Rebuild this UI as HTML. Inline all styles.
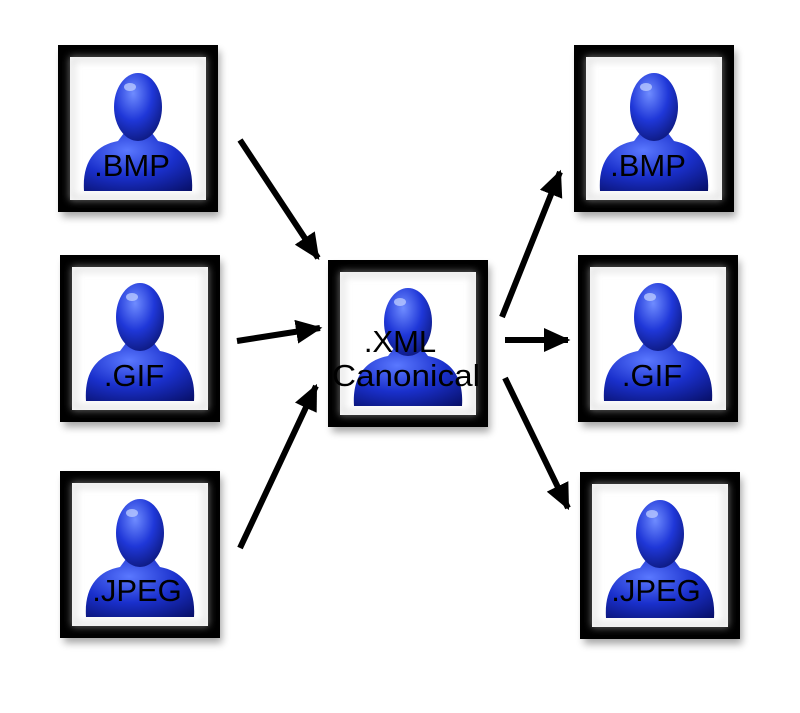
<!DOCTYPE html>
<html><head><style>
body{margin:0;background:#fff;}
svg{display:block;}
text{font-family:"Liberation Sans",sans-serif;fill:#000;}
</style></head><body>
<svg width="800" height="713" viewBox="0 0 800 713" xmlns="http://www.w3.org/2000/svg">
<defs>
<radialGradient id="hg" cx="0.4" cy="0.3" r="0.8">
<stop offset="0" stop-color="#6f8cff"/><stop offset="0.5" stop-color="#1f37d8"/><stop offset="1" stop-color="#0a1470"/>
</radialGradient>
<radialGradient id="bg" cx="0.4" cy="0.3" r="0.9">
<stop offset="0" stop-color="#5a78ff"/><stop offset="0.5" stop-color="#1a30cc"/><stop offset="1" stop-color="#08106a"/>
</radialGradient>
<filter id="sh" x="-20%" y="-20%" width="140%" height="140%"><feGaussianBlur stdDeviation="4"/></filter>
<g id="card">
<rect x="4" y="6" width="158" height="166" fill="#000" opacity="0.35" filter="url(#sh)"/>
<rect x="6" y="6" width="148" height="155" fill="#fff" stroke="#000" stroke-width="12"/>
<rect x="14" y="14" width="132" height="139" fill="none" stroke="#ccc" stroke-width="3" filter="url(#sh)"/>
<path d="M26 146 C24 116 38 100 60 96 L66 88 L94 88 L100 96 C122 100 136 116 134 146 Z" fill="url(#bg)"/>
<ellipse cx="80" cy="62" rx="24" ry="34" fill="url(#hg)"/>
<ellipse cx="72" cy="42" rx="6" ry="4" fill="#b8c8ff" opacity="0.8"/>
</g>
<marker id="ah" markerWidth="4.4" markerHeight="4" refX="4" refY="2" orient="auto" markerUnits="strokeWidth">
<path d="M0 0 L4.4 2 L0 4 Z" fill="#000"/></marker>
</defs>
<use href="#card" x="58" y="45"/>
<use href="#card" x="60" y="255"/>
<use href="#card" x="60" y="471"/>
<use href="#card" x="328" y="260"/>
<use href="#card" x="574" y="45"/>
<use href="#card" x="578" y="255"/>
<use href="#card" x="580" y="472"/>
<g font-size="31" text-anchor="middle">
<text x="132" y="176">.BMP</text>
<text x="134" y="386">.GIF</text>
<text x="137" y="601">.JPEG</text>
<text x="648" y="176">.BMP</text>
<text x="652" y="386">.GIF</text>
<text x="656" y="601">.JPEG</text>
<text x="400" y="352">.XML</text>
<text x="406" y="386" textLength="148" lengthAdjust="spacingAndGlyphs">Canonical</text>
</g>
<g stroke="#000" stroke-width="6" marker-end="url(#ah)">
<line x1="240" y1="140" x2="318" y2="258"/>
<line x1="237" y1="341" x2="320" y2="328"/>
<line x1="240" y1="548" x2="316" y2="386"/>
<line x1="502" y1="317" x2="560" y2="172"/>
<line x1="505" y1="340" x2="568" y2="340"/>
<line x1="505" y1="378" x2="568" y2="508"/>
</g>
</svg>
</body></html>
